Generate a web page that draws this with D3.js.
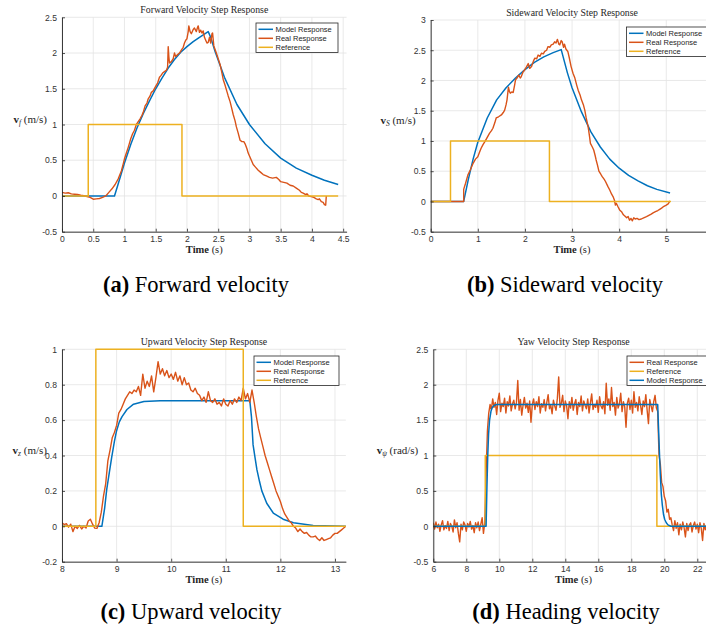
<!DOCTYPE html>
<html>
<head>
<meta charset="utf-8">
<script src="https://cdn.jsdelivr.net/npm/d3@7"></script>
<style>
  body { margin: 0; background: #fff; }
  svg { display: block; }
</style>
</head>
<body>
<div id="chart"></div>
<script>
// ---------- data ----------
// forward velocity
const fwdModel = [[0,0],[0.84,0],[0.9,0.17],[1.0,0.46],[1.1,0.72],[1.2,0.95],[1.3,1.15],[1.4,1.33],[1.5,1.5],[1.6,1.65],[1.7,1.79],[1.8,1.91],[1.9,2.01],[2.0,2.09],[2.1,2.16],[2.2,2.22],[2.34,2.3],[2.38,2.22],[2.45,2.02],[2.6,1.66],[2.8,1.28],[3.0,1.0],[3.25,0.73],[3.5,0.53],[3.75,0.39],[4.0,0.29],[4.2,0.22],[4.42,0.16]];
const fwdReal = [[0,0.05],[0.05,0.04],[0.1,0.045],[0.15,0.03],[0.2,0.025],[0.25,0.02],[0.3,0.01],[0.35,0.005],[0.4,-0.01],[0.45,-0.02],[0.5,-0.045],[0.55,-0.04],[0.6,-0.035],[0.65,-0.02],[0.7,0.0],[0.75,0.05],[0.8,0.1],[0.85,0.16],[0.9,0.24],[0.95,0.35],[0.98,0.45],[1.0,0.52],[1.03,0.6],[1.06,0.68],[1.08,0.74],[1.1,0.8],[1.13,0.87],[1.16,0.92],[1.19,1.0],[1.22,1.04],[1.25,1.08],[1.28,1.13],[1.3,1.17],[1.33,1.26],[1.36,1.3],[1.38,1.36],[1.41,1.4],[1.43,1.45],[1.46,1.47],[1.49,1.52],[1.51,1.55],[1.53,1.58],[1.56,1.66],[1.58,1.68],[1.61,1.72],[1.64,1.74],[1.67,1.76],[1.69,1.8],[1.7,2.09],[1.71,1.95],[1.72,1.86],[1.75,1.88],[1.78,1.92],[1.8,2.0],[1.82,1.95],[1.85,1.98],[1.88,2.0],[1.91,2.04],[1.94,2.08],[1.96,2.14],[1.98,2.18],[2.0,2.2],[2.02,2.3],[2.03,2.38],[2.05,2.3],[2.07,2.27],[2.1,2.33],[2.12,2.35],[2.15,2.3],[2.17,2.36],[2.18,2.38],[2.2,2.29],[2.22,2.32],[2.24,2.28],[2.26,2.31],[2.28,2.22],[2.3,2.18],[2.32,2.14],[2.34,2.15],[2.36,2.22],[2.38,2.14],[2.4,2.27],[2.41,2.28],[2.43,2.1],[2.45,2.05],[2.47,2.0],[2.5,1.92],[2.53,1.84],[2.56,1.72],[2.58,1.63],[2.61,1.55],[2.64,1.46],[2.66,1.4],[2.69,1.32],[2.71,1.25],[2.74,1.14],[2.77,1.05],[2.79,0.97],[2.82,0.88],[2.85,0.78],[2.88,0.76],[2.91,0.76],[2.93,0.73],[2.96,0.66],[2.98,0.6],[3.02,0.52],[3.06,0.44],[3.1,0.4],[3.14,0.36],[3.18,0.33],[3.22,0.3],[3.27,0.28],[3.32,0.26],[3.37,0.25],[3.43,0.26],[3.47,0.23],[3.5,0.2],[3.55,0.19],[3.6,0.18],[3.65,0.15],[3.7,0.14],[3.75,0.11],[3.8,0.08],[3.83,0.05],[3.86,0.04],[3.9,0.02],[3.92,0.03],[3.95,0.0],[3.99,-0.01],[4.03,-0.02],[4.07,-0.04],[4.1,-0.05],[4.12,-0.04],[4.15,-0.08],[4.18,-0.09],[4.2,-0.12],[4.22,-0.13],[4.23,0.0]];
const fwdRef = [[0,0],[0.42,0],[0.42,1],[1.92,1],[1.92,0],[4.42,0]];
const fwdXTicks = [0,0.5,1,1.5,2,2.5,3,3.5,4,4.5];
const fwdYTicks = [-0.5,0,0.5,1,1.5,2,2.5];

// sideward velocity
const sideModel = [[0,0],[0.7,0],[0.8,0.37],[0.9,0.7],[1.0,0.98],[1.2,1.38],[1.4,1.68],[1.6,1.88],[1.8,2.04],[2.0,2.18],[2.2,2.3],[2.4,2.39],[2.6,2.46],[2.77,2.51],[2.9,2.13],[3.0,1.88],[3.2,1.48],[3.4,1.15],[3.6,0.9],[3.8,0.7],[4.0,0.55],[4.2,0.43],[4.4,0.34],[4.6,0.26],[4.8,0.2],[5.08,0.14]];
const sideReal = [[0,0],[0.7,0],[0.7,0.2],[0.74,0.3],[0.79,0.44],[0.84,0.52],[0.9,0.63],[0.95,0.7],[1.0,0.74],[1.04,0.82],[1.07,0.88],[1.11,0.94],[1.15,0.99],[1.2,1.06],[1.25,1.13],[1.29,1.17],[1.32,1.21],[1.36,1.3],[1.39,1.38],[1.44,1.4],[1.5,1.43],[1.54,1.47],[1.57,1.51],[1.6,1.6],[1.62,1.68],[1.64,1.82],[1.65,1.89],[1.67,1.82],[1.69,1.79],[1.72,1.81],[1.75,1.8],[1.78,1.92],[1.8,2.01],[1.84,2.05],[1.87,2.09],[1.9,2.04],[1.92,2.06],[1.96,2.14],[1.99,2.17],[2.03,2.22],[2.07,2.28],[2.1,2.2],[2.14,2.23],[2.18,2.32],[2.21,2.37],[2.25,2.36],[2.28,2.42],[2.32,2.4],[2.35,2.45],[2.39,2.44],[2.42,2.48],[2.46,2.5],[2.49,2.56],[2.53,2.55],[2.56,2.59],[2.6,2.6],[2.63,2.64],[2.66,2.62],[2.69,2.68],[2.72,2.6],[2.74,2.59],[2.77,2.66],[2.79,2.64],[2.82,2.55],[2.84,2.6],[2.87,2.52],[2.91,2.48],[2.94,2.38],[2.98,2.23],[3.02,2.12],[3.06,2.04],[3.1,1.92],[3.13,1.84],[3.17,1.76],[3.2,1.68],[3.24,1.6],[3.27,1.51],[3.3,1.38],[3.34,1.24],[3.37,1.08],[3.39,0.96],[3.43,0.9],[3.46,0.85],[3.49,0.76],[3.51,0.69],[3.54,0.6],[3.57,0.5],[3.61,0.45],[3.64,0.41],[3.68,0.37],[3.71,0.33],[3.76,0.25],[3.8,0.19],[3.84,0.12],[3.87,0.08],[3.9,0.02],[3.92,-0.06],[3.94,-0.03],[3.97,-0.08],[4.01,-0.14],[4.05,-0.17],[4.09,-0.22],[4.12,-0.24],[4.16,-0.27],[4.19,-0.25],[4.22,-0.31],[4.25,-0.28],[4.28,-0.32],[4.31,-0.27],[4.34,-0.29],[4.38,-0.28],[4.42,-0.3],[4.47,-0.29],[4.52,-0.27],[4.58,-0.25],[4.63,-0.23],[4.68,-0.21],[4.72,-0.19],[4.77,-0.17],[4.82,-0.15],[4.86,-0.13],[4.9,-0.11],[4.95,-0.08],[5.0,-0.06],[5.04,-0.04],[5.08,0.01]];
const sideRef = [[0,0],[0.42,0],[0.42,1],[2.52,1],[2.52,0],[5.1,0]];
const sideXTicks = [0,1,2,3,4,5];
const sideYTicks = [-0.5,0,0.5,1,1.5,2,2.5,3];

// upward velocity
const upModel = [[8,0],[8.73,0],[8.78,0.1],[8.82,0.21],[8.87,0.31],[8.91,0.39],[8.96,0.48],[9.0,0.54],[9.05,0.59],[9.1,0.62],[9.19,0.66],[9.31,0.69],[9.5,0.705],[9.8,0.71],[11.44,0.71],[11.47,0.62],[11.5,0.46],[11.54,0.38],[11.57,0.32],[11.62,0.25],[11.66,0.2],[11.75,0.13],[11.87,0.075],[12.05,0.04],[12.24,0.02],[12.6,0.005],[13.2,0]];
const upRealT0 = 8, upRealDt = 0.04;
const upReal = [
  0.02,0.01,0.015,-0.005,0.012,-0.03,0.0,-0.012,0.005,-0.015,
  0.0,-0.01,0.03,0.04,0.012,-0.01,-0.012,0.02,0.08,0.17,
  0.24,0.37,0.43,0.5,0.53,0.57,0.64,0.66,0.69,0.72,
  0.74,0.76,0.75,0.77,0.76,0.79,0.74,0.86,0.78,0.82,
  0.79,0.85,0.76,0.84,0.93,0.86,0.89,0.85,0.88,0.84,
  0.86,0.83,0.87,0.82,0.85,0.8,0.84,0.8,0.81,0.77,
  0.76,0.78,0.75,0.74,0.71,0.73,0.7,0.76,0.71,0.7,
  0.72,0.69,0.7,0.68,0.72,0.69,0.68,0.71,0.69,0.72,
  0.7,0.73,0.71,0.78,0.72,0.75,0.7,0.77,0.7,0.62,
  0.55,0.5,0.45,0.4,0.36,0.32,0.28,0.24,0.2,0.17,
  0.14,0.1,0.07,0.05,0.03,0.02,0.0,-0.01,-0.03,-0.015,
  -0.03,-0.04,-0.035,-0.05,-0.06,-0.06,-0.055,-0.07,-0.08,-0.065,
  -0.08,-0.075,-0.07,-0.065,-0.05,-0.04,-0.04,-0.03,-0.02,-0.01,0.0
];
const upRef = [[8,0],[8.62,0],[8.62,1],[11.32,1],[11.32,0],[13.2,0]];
const upXTicks = [8,9,10,11,12,13];
const upYTicks = [-0.2,0,0.2,0.4,0.6,0.8,1];

// yaw velocity
const yawModel = [[6,0],[9.2,0],[9.25,0.55],[9.3,1.0],[9.35,1.3],[9.41,1.5],[9.5,1.63],[9.58,1.68],[9.7,1.71],[9.85,1.72],[19.6,1.72],[19.64,1.45],[19.68,1.2],[19.72,0.95],[19.76,0.72],[19.82,0.45],[19.88,0.3],[19.95,0.17],[20.02,0.1],[20.12,0.05],[20.22,0.02],[20.4,0],[23,0]];
const yawRealT0 = 6, yawRealDt = 0.08;
const yawReal = [
  0.05,-0.04,0.06,-0.02,0.03,-0.07,0.02,0.08,-0.05,0.01,
  -0.03,0.07,-0.06,0.04,0.0,-0.08,0.09,-0.02,0.05,-0.1,
  -0.22,0.03,-0.05,0.06,0.02,-0.07,0.04,-0.01,0.07,-0.04,
  0.01,-0.09,0.05,-0.02,0.06,-0.06,0.03,0.12,-0.1,0.05,
  0.75,1.35,1.6,
  1.72,1.65,1.80,1.68,1.75,1.58,1.78,1.88,1.62,1.74,
  1.69,1.81,1.60,1.76,1.70,1.84,1.63,1.73,1.78,1.66,
  1.75,2.06,1.64,1.79,1.57,1.71,1.82,1.67,1.74,1.61,
  1.77,1.47,1.72,1.80,1.65,1.76,1.69,1.83,1.60,1.73,
  1.68,1.79,1.63,1.75,1.86,1.66,1.71,1.59,1.78,1.70,
  1.64,1.81,2.11,1.68,1.74,1.85,1.62,1.77,1.70,1.52,
  1.76,1.67,1.82,1.64,1.73,1.79,1.58,1.75,1.69,1.84,
  1.63,1.77,1.71,1.66,1.80,1.60,1.74,1.87,1.65,1.72,
  1.68,1.78,1.61,1.83,1.70,1.66,1.76,1.59,2.02,1.71,
  1.80,1.64,1.96,1.69,1.75,1.57,1.82,1.67,1.73,1.88,
  1.62,1.76,1.69,1.40,1.74,1.81,1.65,1.78,1.60,1.90,
  1.68,1.75,1.63,1.83,1.71,1.58,1.77,1.69,1.86,1.64,
  1.45,1.79,1.70,1.62,1.76,1.85,1.67,
  1.62,1.0,0.88,0.62,0.56,0.42,0.36,0.2,0.24,0.1,0.12,
  0.02,-0.06,0.08,-0.03,0.05,-0.12,0.03,-0.05,0.06,-0.02,
  -0.15,0.04,-0.06,0.02,0.05,-0.08,0.01,0.06,-0.04,0.03,
  -0.09,0.05,-0.03,-0.2,0.04,-0.05,0.02
];
const yawRef = [[6,0],[9.15,0],[9.15,1],[19.55,1],[19.55,0],[23,0]];
const yawXTicks = [6,8,10,12,14,16,18,20,22];
const yawYTicks = [-0.5,0,0.5,1,1.5,2,2.5];

// ---------- styling ----------
const colors = { model: '#0072BD', real: '#D95319', ref: '#EDB120' };
const axisColor = '#262626';
const gridColor = '#e3e3e3';

const sampled = (t0, dt, vals) => vals.map((v, i) => [t0 + i * dt, v]);

const panels = [
  {
    title: 'Forward Velocity Step Response', sub: 'f', unit: '(m/s)',
    xDomain: [0, 4.555], yDomain: [-0.5, 2.5], xTicks: fwdXTicks, yTicks: fwdYTicks,
    box: { l: 62, r: 346.6, t: 17.3, b: 231.7 },
    legend: { x: 256, y: 23, w: 82 },
    series: [['Model Response', fwdModel, 'model'], ['Real Response', fwdReal, 'real'], ['Reference', fwdRef, 'ref']],
    cap: ['(a)', ' Forward velocity'], capX: 196, capY: 292
  },
  {
    title: 'Sideward Velocity Step Response', sub: 'S', unit: '(m/s)',
    xDomain: [0, 6], yDomain: [-0.5, 3], xTicks: sideXTicks, yTicks: sideYTicks,
    box: { l: 430.7, r: 713.4, t: 20, b: 231.7 },
    legend: { x: 626.5, y: 27, w: 95 },
    series: [['Model Response', sideModel, 'model'], ['Real Response', sideReal, 'real'], ['Reference', sideRef, 'ref']],
    cap: ['(b)', ' Sideward velocity'], capX: 565, capY: 292
  },
  {
    title: 'Upward Velocity Step Response', sub: 'z', unit: '(m/s)',
    xDomain: [8, 13.2], yDomain: [-0.2, 1], xTicks: upXTicks, yTicks: upYTicks,
    box: { l: 62, r: 345.9, t: 349.3, b: 561.7 },
    legend: { x: 254, y: 356, w: 85 },
    series: [['Model Response', upModel, 'model'], ['Real Response', sampled(upRealT0, upRealDt, upReal), 'real'], ['Reference', upRef, 'ref']],
    cap: ['(c)', ' Upward velocity'], capX: 191, capY: 619
  },
  {
    title: 'Yaw Velocity Step Response', sub: 'ψ', unit: '(rad/s)',
    xDomain: [6, 23], yDomain: [-0.5, 2.5], xTicks: yawXTicks, yTicks: yawYTicks,
    box: { l: 433.3, r: 713.8, t: 349.3, b: 561.7 },
    legend: { x: 627, y: 356, w: 95 },
    series: [['Real Response', sampled(yawRealT0, yawRealDt, yawReal), 'real'], ['Reference', yawRef, 'ref'], ['Model Response', yawModel, 'model']],
    cap: ['(d)', ' Heading velocity'], capX: 566, capY: 619
  }
];

const svg = d3.select('#chart').append('svg')
  .attr('width', 706).attr('height', 631)
  .style('background', '#fff');

panels.forEach((p, k) => {
  const x = d3.scaleLinear().domain(p.xDomain).range([p.box.l, p.box.r]);
  const y = d3.scaleLinear().domain(p.yDomain).range([p.box.b, p.box.t]);
  const g = svg.append('g').attr('class', 'panel-' + k);

  // grid
  g.append('g').selectAll('line').data(p.xTicks).join('line')
    .attr('x1', d => x(d)).attr('x2', d => x(d))
    .attr('y1', p.box.t).attr('y2', p.box.b)
    .attr('stroke', gridColor).attr('stroke-width', 0.8);
  g.append('g').selectAll('line').data(p.yTicks).join('line')
    .attr('x1', p.box.l).attr('x2', p.box.r)
    .attr('y1', d => y(d)).attr('y2', d => y(d))
    .attr('stroke', gridColor).attr('stroke-width', 0.8);

  // clip for data
  const clipId = 'clip' + k;
  g.append('clipPath').attr('id', clipId).append('rect')
    .attr('x', p.box.l).attr('y', p.box.t - 2)
    .attr('width', p.box.r - p.box.l).attr('height', p.box.b - p.box.t + 4);

  const line = d3.line().x(d => x(d[0])).y(d => y(d[1]));
  const lines = g.append('g').attr('clip-path', `url(#${clipId})`);
  p.series.forEach(s => {
    lines.append('path')
      .datum(s[1])
      .attr('d', line)
      .attr('fill', 'none')
      .attr('stroke', colors[s[2]])
      .attr('stroke-width', s[2] === 'real' ? 1.4 : 1.5)
      .attr('stroke-linejoin', 'round');
  });

  // axes
  const xAxis = d3.axisBottom(x).tickValues(p.xTicks).tickFormat(d => String(d))
    .tickSize(-3).tickSizeOuter(0).tickPadding(4);
  const yAxis = d3.axisLeft(y).tickValues(p.yTicks).tickFormat(d => String(d))
    .tickSize(-3).tickSizeOuter(0).tickPadding(5);

  const gx = g.append('g').attr('transform', `translate(0,${p.box.b})`).call(xAxis);
  const gy = g.append('g').attr('transform', `translate(${p.box.l},0)`).call(yAxis);
  [gx, gy].forEach(a => {
    a.select('.domain').attr('stroke', axisColor).attr('stroke-width', 0.9);
    a.selectAll('.tick line').attr('stroke', axisColor).attr('stroke-width', 0.8);
    a.selectAll('.tick text')
      .attr('fill', '#333')
      .style('font-family', '"Liberation Sans", Arial, sans-serif')
      .style('font-size', '8.6px');
  });

  // title
  g.append('text')
    .attr('x', (p.box.l + p.box.r) / 2).attr('y', p.box.t - 4.5)
    .attr('text-anchor', 'middle')
    .style('font-family', '"Liberation Serif", "Times New Roman", serif')
    .style('font-size', '9.8px').attr('fill', '#262626')
    .text(p.title);

  // x label
  const xl = g.append('text')
    .attr('x', (p.box.l + p.box.r) / 2).attr('y', p.box.b + 21.5)
    .attr('text-anchor', 'middle')
    .style('font-family', '"Liberation Serif", "Times New Roman", serif')
    .style('font-size', '10.5px').attr('fill', '#262626');
  xl.append('tspan').style('font-weight', 'bold').text('Time');
  xl.append('tspan').text(' (s)');

  // y label
  const yl = g.append('text')
    .attr('x', p.box.l - 15).attr('y', (p.box.t + p.box.b) / 2 - 2)
    .attr('text-anchor', 'end')
    .style('font-family', '"Liberation Serif", "Times New Roman", serif')
    .style('font-size', '11px').attr('fill', '#262626');
  yl.append('tspan').style('font-weight', 'bold').text('v');
  yl.append('tspan').attr('dy', 2).style('font-style', 'italic').style('font-size', '7.5px').text(p.sub);
  yl.append('tspan').attr('dy', -2).text(' ' + p.unit);

  // legend
  const lg = g.append('g').attr('transform', `translate(${p.legend.x},${p.legend.y})`);
  lg.append('rect').attr('width', p.legend.w).attr('height', 29.5)
    .attr('fill', '#fff').attr('stroke', axisColor).attr('stroke-width', 0.8);
  p.series.forEach((s, i) => {
    const yy = 6.3 + i * 9;
    lg.append('line').attr('x1', 2.5).attr('x2', 17).attr('y1', yy).attr('y2', yy)
      .attr('stroke', colors[s[2]]).attr('stroke-width', 1.5);
    lg.append('text').attr('x', 19.5).attr('y', yy + 2.7)
      .style('font-family', '"Liberation Sans", Arial, sans-serif')
      .style('font-size', '7.5px').attr('fill', '#262626')
      .text(s[0]);
  });

  // caption
  const cap = svg.append('text')
    .attr('x', p.capX).attr('y', p.capY)
    .attr('text-anchor', 'middle')
    .style('font-family', '"Liberation Serif", "Times New Roman", serif')
    .style('font-size', '22.5px').attr('fill', '#000');
  cap.append('tspan').style('font-weight', 'bold').text(p.cap[0]);
  cap.append('tspan').text(p.cap[1]);
});
</script>
</body>
</html>
